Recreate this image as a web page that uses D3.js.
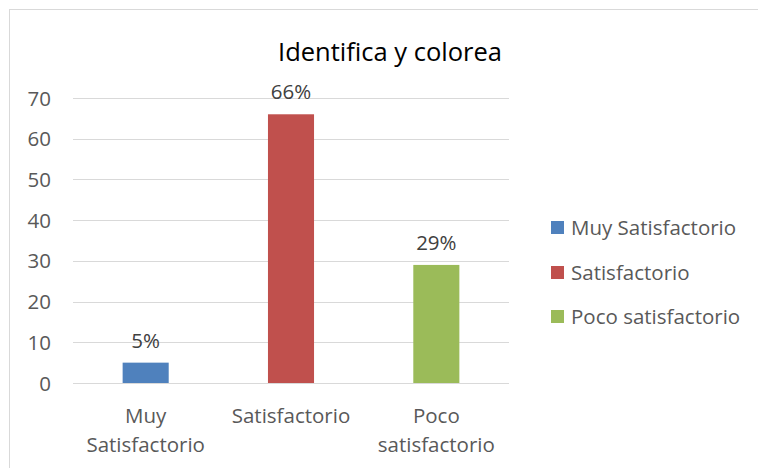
<!DOCTYPE html>
<html><head><meta charset="utf-8">
<script src="https://cdn.jsdelivr.net/npm/d3@7/dist/d3.min.js"></script>
<style>body{margin:0;background:#fff}svg{display:block}</style>
</head><body>
<svg id="c" width="758" height="468"></svg>
<script>
const categories = ["Muy Satisfactorio", "Satisfactorio", "Poco satisfactorio"];
const axisLabels = [["Muy", "Satisfactorio"], ["Satisfactorio"], ["Poco", "satisfactorio"]];
const values = [5, 66, 29];
const valueLabels = ["5%", "66%", "29%"];
const colors = ["#4f81bd", "#c0504d", "#9bbb59"];
const yTicks = [0, 10, 20, 30, 40, 50, 60, 70];
const title = "Identifica y colorea";

const FONT = "'Open Sans', sans-serif";
const FS = 20.5;
const svg = d3.select("#c");
svg.append("rect").attr("x", 9.5).attr("y", 9.5).attr("width", 800).attr("height", 600)
  .attr("fill", "none").attr("stroke", "#d9d9d9").attr("stroke-width", 1);

const L = 73, R = 509, T = 98, B = 383;
const x = d3.scaleBand().domain(categories).range([L, R]).padding(0);
const y = d3.scaleLinear().domain([0, 70]).range([B, T]);
const barW = x.bandwidth() * 0.317;

svg.append("g").selectAll("line").data(yTicks).join("line")
  .attr("x1", L).attr("x2", R).attr("y1", d => Math.round(y(d)) + 0.5).attr("y2", d => Math.round(y(d)) + 0.5)
  .attr("stroke", "#d9d9d9").attr("stroke-width", 1);

svg.append("g").selectAll("text").data(yTicks).join("text")
  .attr("x", 51).attr("y", d => y(d) + 7.5).attr("text-anchor", "end")
  .attr("font-family", FONT).attr("font-size", FS).attr("fill", "#595959").text(d => d);

svg.append("g").selectAll("rect").data(categories).join("rect")
  .attr("x", (d) => x(d) + x.bandwidth() / 2 - barW / 2)
  .attr("width", barW)
  .attr("y", (d, i) => y(values[i]))
  .attr("height", (d, i) => y(0) - y(values[i]))
  .attr("fill", (d, i) => colors[i]);

svg.append("g").selectAll("text").data(categories).join("text")
  .attr("x", d => x(d) + x.bandwidth() / 2)
  .attr("y", (d, i) => y(values[i]) - 15)
  .attr("text-anchor", "middle").attr("font-family", FONT).attr("font-size", FS).attr("fill", "#404040")
  .text((d, i) => valueLabels[i]);

const xl = svg.append("g").selectAll("text").data(categories).join("text")
  .attr("text-anchor", "middle").attr("font-family", FONT).attr("font-size", FS).attr("fill", "#595959");
xl.each(function(d, i) {
  const t = d3.select(this);
  axisLabels[i].forEach((s, j) => {
    t.append("tspan").attr("x", x(d) + x.bandwidth() / 2).attr("y", 423 + j * 29).text(s);
  });
});

svg.append("text").attr("x", 390).attr("y", 61).attr("text-anchor", "middle")
  .attr("font-family", FONT).attr("font-size", 25.5).attr("fill", "#000").text(title);

const lg = svg.append("g").selectAll("g").data(categories).join("g")
  .attr("transform", (d, i) => `translate(551, ${[235, 280, 324][i]})`);
lg.append("rect").attr("x", 0).attr("y", -14).attr("width", 13).attr("height", 13).attr("fill", (d, i) => colors[i]);
lg.append("text").attr("x", 20).attr("y", 0).attr("font-family", FONT).attr("font-size", FS)
  .attr("fill", "#595959").text(d => d);
</script>
</body></html>
